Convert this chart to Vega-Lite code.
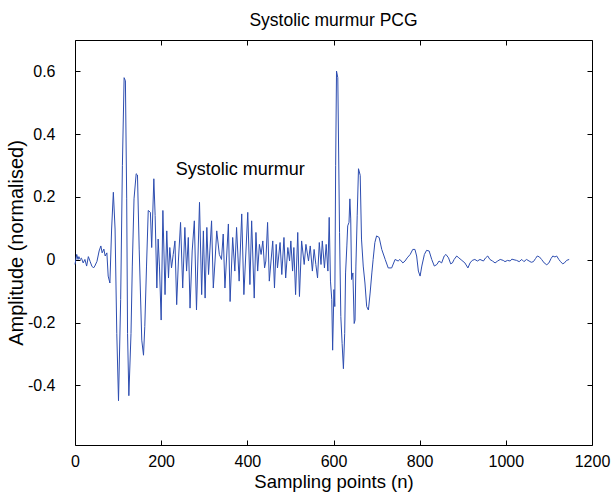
{
  "$schema": "https://vega.github.io/schema/vega-lite/v6.json",
  "autosize": {"type": "none"},
  "padding": {"left": 75, "top": 40, "right": 22, "bottom": 55},
  "width": 517,
  "height": 405,
  "background": "white",
  "config": {
    "view": {"stroke": "black", "strokeWidth": 1},
    "font": "Liberation Sans",
    "axis": {
      "grid": false,
      "domain": false,
      "tickColor": "black",
      "tickSize": -5,
      "labelColor": "black",
      "labelFont": "Liberation Sans",
      "labelFontSize": 16,
      "titleFont": "Liberation Sans",
      "titleFontSize": 18.5,
      "titleFontWeight": "normal",
      "titleColor": "black",
      "labelOverlap": false,
      "labelFlush": false
    }
  },
  "title": {"text": "Systolic murmur PCG", "fontSize": 17.5, "fontWeight": "normal", "font": "Liberation Sans", "color": "black", "offset": 10},
  "datasets": {
    "pcg": [
      {"n":0,"a":-0.015},{"n":4,"a":0.017},{"n":7,"a":0.001},{"n":9,"a":0.010},{"n":12,"a":0.001},{"n":15,"a":0.005},{"n":19,"a":-0.010},{"n":23,"a":0.001},{"n":27,"a":-0.020},{"n":31,"a":0.010},{"n":35,"a":-0.005},{"n":39,"a":-0.020},{"n":43,"a":-0.026},{"n":46,"a":-0.020},{"n":51,"a":-0.005},{"n":56,"a":0.028},{"n":60,"a":0.044},{"n":63,"a":0.022},{"n":67,"a":0.034},{"n":70,"a":0.012},{"n":74,"a":0.022},{"n":77,"a":-0.052},{"n":81,"a":-0.074},{"n":85,"a":0.098},{"n":89,"a":0.215},{"n":93,"a":0.098},{"n":97,"a":-0.235},{"n":101,"a":-0.449},{"n":106,"a":-0.127},{"n":110,"a":0.301},{"n":114,"a":0.580},{"n":117,"a":0.570},{"n":120,"a":0.194},{"n":122,"a":-0.235},{"n":125,"a":-0.433},{"n":130,"a":-0.235},{"n":133,"a":-0.020},{"n":137,"a":0.194},{"n":142,"a":0.274},{"n":145,"a":0.270},{"n":149,"a":0.034},{"n":155,"a":-0.256},{"n":159,"a":-0.304},{"n":162,"a":-0.213},{"n":166,"a":-0.020},{"n":170,"a":0.157},{"n":175,"a":0.151},{"n":178,"a":0.039},{"n":183,"a":0.258},{"n":186,"a":0.141},{"n":190,"a":-0.090},{"n":193,"a":0.066},{"n":196,"a":-0.020},{"n":200,"a":-0.192},{"n":204,"a":0.157},{"n":209,"a":-0.111},{"n":213,"a":0.092},{"n":217,"a":-0.058},{"n":220,"a":0.039},{"n":224,"a":-0.026},{"n":228,"a":0.017},{"n":232,"a":0.060},{"n":236,"a":-0.143},{"n":240,"a":-0.004},{"n":245,"a":0.119},{"n":250,"a":-0.090},{"n":255,"a":0.103},{"n":259,"a":-0.036},{"n":263,"a":0.071},{"n":267,"a":-0.154},{"n":272,"a":0.028},{"n":277,"a":0.124},{"n":282,"a":-0.160},{"n":289,"a":0.183},{"n":294,"a":-0.111},{"n":298,"a":0.092},{"n":302,"a":-0.122},{"n":306,"a":0.103},{"n":310,"a":-0.047},{"n":313,"a":0.028},{"n":317,"a":0.124},{"n":321,"a":-0.090},{"n":325,"a":-0.004},{"n":329,"a":0.092},{"n":335,"a":0.017},{"n":340,"a":0.001},{"n":344,"a":0.082},{"n":348,"a":-0.090},{"n":356,"a":0.114},{"n":360,"a":-0.133},{"n":366,"a":0.071},{"n":371,"a":-0.036},{"n":375,"a":0.103},{"n":381,"a":-0.068},{"n":387,"a":0.146},{"n":392,"a":-0.111},{"n":401,"a":0.151},{"n":406,"a":-0.079},{"n":410,"a":0.124},{"n":416,"a":-0.122},{"n":420,"a":0.087},{"n":424,"a":-0.036},{"n":428,"a":0.049},{"n":432,"a":0.017},{"n":436,"a":0.060},{"n":440,"a":-0.026},{"n":443,"a":-0.004},{"n":447,"a":0.119},{"n":451,"a":-0.068},{"n":455,"a":-0.004},{"n":459,"a":0.060},{"n":463,"a":-0.090},{"n":467,"a":0.049},{"n":470,"a":-0.026},{"n":476,"a":0.055},{"n":480,"a":-0.047},{"n":485,"a":0.071},{"n":489,"a":-0.058},{"n":494,"a":0.039},{"n":498,"a":-0.004},{"n":501,"a":0.060},{"n":505,"a":-0.036},{"n":508,"a":0.039},{"n":512,"a":-0.111},{"n":517,"a":0.087},{"n":521,"a":-0.117},{"n":526,"a":0.060},{"n":532,"a":-0.015},{"n":536,"a":0.049},{"n":542,"a":-0.004},{"n":546,"a":0.044},{"n":551,"a":-0.036},{"n":555,"a":0.033},{"n":559,"a":-0.015},{"n":563,"a":-0.058},{"n":567,"a":0.055},{"n":571,"a":-0.015},{"n":574,"a":0.060},{"n":579,"a":-0.026},{"n":583,"a":0.049},{"n":587,"a":-0.036},{"n":590,"a":0.135},{"n":593,"a":-0.068},{"n":596,"a":-0.127},{"n":598,"a":-0.288},{"n":601,"a":-0.095},{"n":603,"a":-0.149},{"n":605,"a":0.301},{"n":607,"a":0.601},{"n":610,"a":0.580},{"n":614,"a":0.087},{"n":617,"a":-0.181},{"n":620,"a":-0.267},{"n":623,"a":-0.347},{"n":626,"a":-0.235},{"n":628,"a":-0.042},{"n":631,"a":0.044},{"n":633,"a":0.108},{"n":636,"a":0.119},{"n":638,"a":0.194},{"n":640,"a":0.130},{"n":642,"a":-0.063},{"n":645,"a":-0.042},{"n":648,"a":-0.203},{"n":650,"a":-0.192},{"n":652,"a":-0.020},{"n":655,"a":0.140},{"n":658,"a":0.290},{"n":662,"a":0.269},{"n":665,"a":0.066},{"n":669,"a":-0.020},{"n":673,"a":-0.074},{"n":677,"a":-0.149},{"n":681,"a":-0.160},{"n":685,"a":-0.106},{"n":689,"a":-0.042},{"n":692,"a":0.001},{"n":696,"a":0.055},{"n":700,"a":0.076},{"n":706,"a":0.071},{"n":712,"a":0.033},{"n":720,"a":0.001},{"n":727,"a":-0.026},{"n":735,"a":-0.026},{"n":743,"a":0.001},{"n":750,"a":-0.004},{"n":754,"a":0.001},{"n":761,"a":-0.010},{"n":766,"a":-0.004},{"n":771,"a":0.006},{"n":778,"a":0.017},{"n":784,"a":0.033},{"n":789,"a":0.033},{"n":793,"a":0.012},{"n":797,"a":-0.036},{"n":801,"a":-0.052},{"n":805,"a":-0.020},{"n":811,"a":0.017},{"n":816,"a":0.030},{"n":822,"a":0.028},{"n":828,"a":0.001},{"n":834,"a":-0.020},{"n":840,"a":-0.015},{"n":845,"a":-0.004},{"n":851,"a":-0.010},{"n":857,"a":0.012},{"n":861,"a":0.017},{"n":867,"a":0.006},{"n":872,"a":-0.013},{"n":876,"a":-0.010},{"n":880,"a":0.001},{"n":886,"a":0.012},{"n":891,"a":0.006},{"n":898,"a":-0.002},{"n":905,"a":-0.010},{"n":912,"a":-0.026},{"n":917,"a":-0.010},{"n":922,"a":-0.002},{"n":928,"a":0.001},{"n":934,"a":-0.004},{"n":940,"a":0.001},{"n":948,"a":-0.004},{"n":953,"a":0.006},{"n":958,"a":0.012},{"n":963,"a":0.001},{"n":969,"a":-0.004},{"n":975,"a":-0.010},{"n":981,"a":-0.004},{"n":987,"a":0.001},{"n":994,"a":-0.002},{"n":998,"a":-0.006},{"n":1004,"a":-0.002},{"n":1010,"a":-0.004},{"n":1014,"a":0.002},{"n":1019,"a":0.000},{"n":1025,"a":-0.002},{"n":1031,"a":-0.006},{"n":1037,"a":0.001},{"n":1042,"a":-0.006},{"n":1048,"a":0.001},{"n":1054,"a":-0.004},{"n":1059,"a":-0.008},{"n":1064,"a":-0.006},{"n":1069,"a":0.004},{"n":1073,"a":0.012},{"n":1078,"a":0.009},{"n":1083,"a":0.001},{"n":1089,"a":-0.010},{"n":1095,"a":-0.016},{"n":1100,"a":-0.010},{"n":1105,"a":0.004},{"n":1109,"a":0.012},{"n":1114,"a":0.009},{"n":1118,"a":0.012},{"n":1123,"a":0.001},{"n":1127,"a":-0.006},{"n":1132,"a":-0.013},{"n":1136,"a":-0.010},{"n":1141,"a":-0.002},{"n":1147,"a":0.001}
    ],
    "note": [{"n": 234, "a": 0.285, "t": "Systolic murmur"}]
  },
  "layer": [
    {
      "data": {"name": "pcg"},
      "mark": {"type": "line", "color": "#2d4db0", "strokeWidth": 1},
      "encoding": {
        "x": {"field": "n", "type": "quantitative", "scale": {"domain": [0, 1200], "nice": false, "zero": false},
              "axis": {"orient": "bottom", "values": [0, 200, 400, 600, 800, 1000, 1200], "format": "d", "labelPadding": 13, "title": "Sampling points (n)", "titlePadding": 3}},
        "y": {"field": "a", "type": "quantitative", "scale": {"domain": [-0.59, 0.7], "nice": false, "zero": false},
              "axis": {"orient": "left", "values": [-0.4, -0.2, 0, 0.2, 0.4, 0.6], "labelExpr": "datum.value == 0 ? '0' : (datum.value < 0 ? '-' : '') + format(abs(datum.value), '.1f')", "labelPadding": 25, "title": "Amplitude (normalised)", "titleFontSize": 20, "titlePadding": 1}}
      }
    },
    {
      "data": {"name": "pcg"},
      "mark": {"type": "line", "opacity": 0},
      "encoding": {
        "x": {"field": "n", "type": "quantitative", "scale": {"domain": [0, 1200], "nice": false, "zero": false},
              "axis": {"orient": "top", "values": [0, 200, 400, 600, 800, 1000, 1200], "labels": false, "title": null}},
        "y": {"field": "a", "type": "quantitative", "scale": {"domain": [-0.59, 0.7], "nice": false, "zero": false},
              "axis": {"orient": "right", "values": [-0.4, -0.2, 0, 0.2, 0.4, 0.6], "labels": false, "title": null}}
      }
    },
    {
      "data": {"name": "note"},
      "mark": {"type": "text", "align": "left", "baseline": "middle", "fontSize": 18, "font": "Liberation Sans", "color": "black"},
      "encoding": {
        "x": {"field": "n", "type": "quantitative", "scale": {"domain": [0, 1200], "nice": false, "zero": false}, "axis": null},
        "y": {"field": "a", "type": "quantitative", "scale": {"domain": [-0.59, 0.7], "nice": false, "zero": false}, "axis": null},
        "text": {"field": "t"}
      }
    }
  ],
  "resolve": {"axis": {"x": "independent", "y": "independent"}}
}
